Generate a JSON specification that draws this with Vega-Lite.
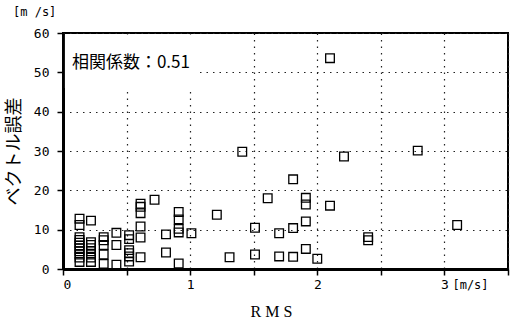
{
  "$schema": "https://vega.github.io/schema/vega-lite/v6.json",
  "width": 445,
  "height": 236,
  "autosize": {"type": "none"},
  "padding": {"left": 63, "top": 33, "right": 2, "bottom": 51},
  "background": "white",
  "config": {
    "view": {"stroke": "black", "strokeWidth": 2},
    "axis": {
      "domainColor": "black", "domainWidth": 3,
      "tickColor": "black", "tickWidth": 1.5, "tickSize": 6,
      "labelFont": "DejaVu Sans Mono", "labelFontSize": 13, "labelColor": "black",
      "grid": true, "gridColor": "#222", "gridDash": [1.5, 5], "gridWidth": 1.2
    }
  },
  "datasets": {
    "pts": [
    {"rms": 0.13, "err": 12.8}, {"rms": 0.13, "err": 11.2}, {"rms": 0.13, "err": 8.1}, {"rms": 0.13, "err": 7.4},
    {"rms": 0.13, "err": 6.7}, {"rms": 0.13, "err": 6.0}, {"rms": 0.13, "err": 5.3}, {"rms": 0.13, "err": 4.5},
    {"rms": 0.13, "err": 3.7}, {"rms": 0.13, "err": 2.9}, {"rms": 0.13, "err": 1.8},
    {"rms": 0.22, "err": 12.3}, {"rms": 0.22, "err": 6.8}, {"rms": 0.22, "err": 6.1}, {"rms": 0.22, "err": 5.3},
    {"rms": 0.22, "err": 4.5}, {"rms": 0.22, "err": 3.7}, {"rms": 0.22, "err": 2.9}, {"rms": 0.22, "err": 1.8},
    {"rms": 0.32, "err": 8.1}, {"rms": 0.32, "err": 7.3}, {"rms": 0.32, "err": 6.1}, {"rms": 0.32, "err": 3.7}, {"rms": 0.32, "err": 1.3},
    {"rms": 0.42, "err": 9.2}, {"rms": 0.42, "err": 6.1}, {"rms": 0.42, "err": 1.1},
    {"rms": 0.52, "err": 8.6}, {"rms": 0.52, "err": 7.6}, {"rms": 0.52, "err": 4.8}, {"rms": 0.52, "err": 4.0},
    {"rms": 0.52, "err": 3.2}, {"rms": 0.52, "err": 1.9},
    {"rms": 0.61, "err": 16.6}, {"rms": 0.61, "err": 15.8}, {"rms": 0.61, "err": 14.2}, {"rms": 0.61, "err": 10.8},
    {"rms": 0.61, "err": 8.0}, {"rms": 0.61, "err": 3.0},
    {"rms": 0.72, "err": 17.6},
    {"rms": 0.81, "err": 8.8}, {"rms": 0.81, "err": 4.2},
    {"rms": 0.91, "err": 14.5}, {"rms": 0.91, "err": 12.6}, {"rms": 0.91, "err": 10.2}, {"rms": 0.91, "err": 9.3}, {"rms": 0.91, "err": 1.4},
    {"rms": 1.01, "err": 9.1},
    {"rms": 1.21, "err": 13.8},
    {"rms": 1.31, "err": 3.0},
    {"rms": 1.41, "err": 29.8},
    {"rms": 1.51, "err": 10.5}, {"rms": 1.51, "err": 3.7},
    {"rms": 1.61, "err": 18.0},
    {"rms": 1.70, "err": 9.1}, {"rms": 1.70, "err": 3.2},
    {"rms": 1.81, "err": 22.8}, {"rms": 1.81, "err": 10.4}, {"rms": 1.81, "err": 3.1},
    {"rms": 1.91, "err": 18.1}, {"rms": 1.91, "err": 16.4}, {"rms": 1.91, "err": 12.1}, {"rms": 1.91, "err": 5.1},
    {"rms": 2.00, "err": 2.6},
    {"rms": 2.10, "err": 16.1}, {"rms": 2.10, "err": 53.6},
    {"rms": 2.21, "err": 28.6},
    {"rms": 2.40, "err": 8.1}, {"rms": 2.40, "err": 7.3},
    {"rms": 2.79, "err": 30.1},
    {"rms": 3.10, "err": 11.2}
    ],
    "notes": [
      {"label": "相関係数：0.51"}
    ]
  },
  "layer": [
    {
      "data": {"name": "pts"},
      "mark": {"type": "point", "shape": "square", "size": 75, "filled": false, "stroke": "black", "strokeWidth": 1.3, "opacity": 1},
      "encoding": {
        "x": {
          "field": "rms", "type": "quantitative",
          "scale": {"domain": [0, 3.5], "nice": false, "zero": false},
          "axis": {
            "values": [0, 0.5, 1, 1.5, 2, 2.5, 3, 3.5],
            "labelExpr": "datum.value == 0 || datum.value == 1 || datum.value == 2 || datum.value == 3 ? datum.value : ''",
            "labelPadding": 3,
            "title": "R M S", "titleFont": "Liberation Serif", "titleFontSize": 16, "titleFontWeight": "normal",
            "titleColor": "black", "titlePadding": 12, "titleX": 208
          }
        },
        "y": {
          "field": "err", "type": "quantitative",
          "scale": {"domain": [0, 60], "nice": false},
          "axis": {
            "values": [0, 10, 20, 30, 40, 50, 60],
            "labelPadding": 8,
            "title": "ベクトル誤差", "titleFont": "Noto Sans CJK JP", "titleFontSize": 18, "titleFontWeight": "normal",
            "titleColor": "black", "titlePadding": 10
          }
        }
      }
    },
    {
      "data": {"name": "notes"},
      "mark": {"type": "rect", "fill": "white", "stroke": null},
      "encoding": {
        "x": {"datum": 0.015, "type": "quantitative",
          "axis": {
            "values": [0, 0.5, 1, 1.5, 2, 2.5, 3, 3.5],
            "labelExpr": "datum.value == 0 || datum.value == 1 || datum.value == 2 || datum.value == 3 ? datum.value : ''",
            "labelPadding": 3,
            "title": "R M S", "titleFont": "Liberation Serif", "titleFontSize": 16, "titleFontWeight": "normal",
            "titleColor": "black", "titlePadding": 12, "titleX": 208
          }},
        "x2": {"datum": 1.07},
        "y": {"datum": 46, "type": "quantitative",
          "axis": {
            "values": [0, 10, 20, 30, 40, 50, 60],
            "labelPadding": 8,
            "title": "ベクトル誤差", "titleFont": "Noto Sans CJK JP", "titleFontSize": 18, "titleFontWeight": "normal",
            "titleColor": "black", "titlePadding": 10
          }},
        "y2": {"datum": 59.6}
      }
    },
    {
      "data": {"name": "notes"},
      "mark": {"type": "text", "font": "Noto Sans CJK JP", "fontSize": 17, "align": "left", "baseline": "middle", "color": "black"},
      "encoding": {
        "text": {"field": "label"},
        "x": {"datum": 0.07, "type": "quantitative",
          "axis": {
            "values": [0, 0.5, 1, 1.5, 2, 2.5, 3, 3.5],
            "labelExpr": "datum.value == 0 || datum.value == 1 || datum.value == 2 || datum.value == 3 ? datum.value : ''",
            "labelPadding": 3,
            "title": "R M S", "titleFont": "Liberation Serif", "titleFontSize": 16, "titleFontWeight": "normal",
            "titleColor": "black", "titlePadding": 12, "titleX": 208
          }},
        "y": {"datum": 52.5, "type": "quantitative",
          "axis": {
            "values": [0, 10, 20, 30, 40, 50, 60],
            "labelPadding": 8,
            "title": "ベクトル誤差", "titleFont": "Noto Sans CJK JP", "titleFontSize": 18, "titleFontWeight": "normal",
            "titleColor": "black", "titlePadding": 10
          }}
      }
    },
    {
      "data": {"name": "notes"},
      "mark": {"type": "text", "text": "[m/s]", "font": "DejaVu Sans Mono", "fontSize": 12, "align": "left", "baseline": "middle", "dx": 8, "dy": 16, "color": "black"},
      "encoding": {
        "x": {"datum": 3, "type": "quantitative",
          "axis": {
            "values": [0, 0.5, 1, 1.5, 2, 2.5, 3, 3.5],
            "labelExpr": "datum.value == 0 || datum.value == 1 || datum.value == 2 || datum.value == 3 ? datum.value : ''",
            "labelPadding": 3,
            "title": "R M S", "titleFont": "Liberation Serif", "titleFontSize": 16, "titleFontWeight": "normal",
            "titleColor": "black", "titlePadding": 12, "titleX": 208
          }},
        "y": {"datum": 0, "type": "quantitative",
          "axis": {
            "values": [0, 10, 20, 30, 40, 50, 60],
            "labelPadding": 8,
            "title": "ベクトル誤差", "titleFont": "Noto Sans CJK JP", "titleFontSize": 18, "titleFontWeight": "normal",
            "titleColor": "black", "titlePadding": 10
          }}
      }
    },
    {
      "data": {"name": "notes"},
      "mark": {"type": "text", "text": "[m /s]", "font": "DejaVu Sans Mono", "fontSize": 12, "align": "left", "baseline": "middle", "dx": -50, "dy": -21, "color": "black"},
      "encoding": {
        "x": {"datum": 0, "type": "quantitative",
          "axis": {
            "values": [0, 0.5, 1, 1.5, 2, 2.5, 3, 3.5],
            "labelExpr": "datum.value == 0 || datum.value == 1 || datum.value == 2 || datum.value == 3 ? datum.value : ''",
            "labelPadding": 3,
            "title": "R M S", "titleFont": "Liberation Serif", "titleFontSize": 16, "titleFontWeight": "normal",
            "titleColor": "black", "titlePadding": 12, "titleX": 208
          }},
        "y": {"datum": 60, "type": "quantitative",
          "axis": {
            "values": [0, 10, 20, 30, 40, 50, 60],
            "labelPadding": 8,
            "title": "ベクトル誤差", "titleFont": "Noto Sans CJK JP", "titleFontSize": 18, "titleFontWeight": "normal",
            "titleColor": "black", "titlePadding": 10
          }}
      }
    }
  ]
}
